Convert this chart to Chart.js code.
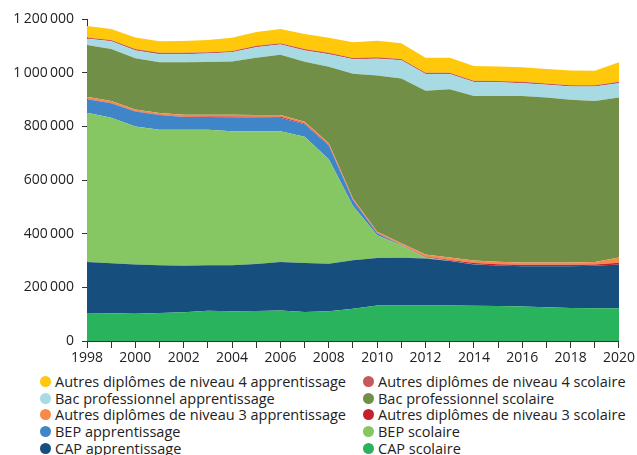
<!DOCTYPE html>
<html lang="fr">
<head>
    <meta charset="UTF-8">
    <title>Effectifs par diplôme</title>
    <script src="https://cdn.jsdelivr.net/npm/chart.js"></script>
    <style>
        body { margin: 0; background: #fff; font-family: "Open Sans", Arial, sans-serif; }
        #wrap { position: relative; width: 637px; height: 455px; }
        #chart-box { position: absolute; left: 0; top: 0; width: 637px; height: 370px; }
        #legend { position: absolute; left: 40px; top: 373px; display: grid; grid-template-columns: 323px 270px; row-gap: 0; }
        .item { display: flex; align-items: center; height: 16.7px; font-size: 14.5px; color: #222; white-space: nowrap; }
        .dot { width: 11px; height: 11px; border-radius: 50%; margin-right: 4px; flex: none; }
    </style>
</head>
<body>
<div id="wrap">
    <div id="chart-box"><canvas id="chart"></canvas></div>
    <div id="legend"></div>
</div>
<script>
const years = ['1998','1999','2000','2001','2002','2003','2004','2005','2006','2007','2008','2009','2010','2011','2012','2013','2014','2015','2016','2017','2018','2019','2020'];

const capScolaire = [104000,103000,102000,104000,107000,113000,111000,112000,114000,108000,111000,120000,132000,132000,132000,132000,131000,130000,129000,126000,123000,122000,122000];
const capApprentissage = [190000,187000,183000,178000,173000,169000,171000,175000,180000,183000,177000,181000,177000,178000,175000,166000,154000,151000,150000,153000,156000,158000,163000];
const bepScolaire = [557000,542000,514000,505000,507000,505000,500000,495000,488000,470000,389000,202000,85000,46000,3000,0,0,0,0,0,0,0,0];
const bepApprentissage = [50000,54000,56000,55000,48000,48000,52000,51000,50000,47000,52000,22000,8000,2000,2000,1000,1000,0,0,0,0,0,0];
const n3Scolaire = [1000,1000,1000,1000,1000,2000,3000,3000,4000,3000,2000,1000,1000,1000,2000,3000,5000,5000,5000,5000,5000,5000,7000];
const n3Apprentissage = [8000,7000,7000,7000,7000,6000,6000,6000,6000,6000,6000,5000,4000,5000,8000,9000,9000,9000,9000,9000,9000,9000,19000];
const bacProScolaire = [193000,194000,191000,189000,196000,197000,199000,214000,225000,224000,285000,465000,582000,614000,611000,627000,613000,618000,620000,614000,606000,600000,596000];
const bacProApprentissage = [23000,29000,29000,30000,30000,31000,34000,39000,38000,42000,47000,54000,63000,68000,62000,57000,52000,51000,48000,48000,49000,54000,54000];
const n4Scolaire = [5000,5000,5000,5000,5000,5000,5000,5000,5000,5000,5000,5000,5000,5000,5000,5000,5000,5000,5000,5000,5000,5000,5000];
const n4Apprentissage = [43000,41000,43000,43000,44000,46000,49000,52000,53000,56000,56000,58000,62000,59000,56000,56000,55000,54000,54000,54000,55000,54000,73000];

const yTicks = [0, 200000, 400000, 600000, 800000, 1000000, 1200000];

// ordre d'empilement, du bas vers le haut
const series = [
    { label: 'CAP scolaire', data: capScolaire, color: '#29b35c' },
    { label: 'CAP apprentissage', data: capApprentissage, color: '#164e7e' },
    { label: 'BEP scolaire', data: bepScolaire, color: '#86c663' },
    { label: 'BEP apprentissage', data: bepApprentissage, color: '#3f86c8' },
    { label: 'Autres diplômes de niveau 3 scolaire', data: n3Scolaire, color: '#c8202b' },
    { label: 'Autres diplômes de niveau 3 apprentissage', data: n3Apprentissage, color: '#f58a4c' },
    { label: 'Bac professionnel scolaire', data: bacProScolaire, color: '#718f47' },
    { label: 'Bac professionnel apprentissage', data: bacProApprentissage, color: '#a8dae3' },
    { label: 'Autres diplômes de niveau 4 scolaire', data: n4Scolaire, color: '#c65a5a' },
    { label: 'Autres diplômes de niveau 4 apprentissage', data: n4Apprentissage, color: '#ffc80b' }
];

// légende en deux colonnes : apprentissage à gauche, scolaire à droite
const legendOrder = [9, 8, 7, 6, 5, 4, 3, 2, 1, 0];
let legend = document.getElementById('legend');
legendOrder.forEach(i => {
    let s = series[i];
    let div = document.createElement('div');
    div.className = 'item';
    div.innerHTML = `<span class="dot" style="background:${s.color}"></span><span>${s.label}</span>`;
    legend.appendChild(div);
});

function fmt(v) {
    return String(v).replace(/\B(?=(\d{3})+(?!\d))/g, '\u2009');
}

new Chart(document.getElementById('chart'), {
    type: 'line',
    data: {
        labels: years,
        datasets: series.map((s, i) => ({
            label: s.label,
            data: s.data,
            backgroundColor: s.color,
            borderColor: s.color,
            borderWidth: 0,
            pointRadius: 0,
            tension: 0,
            fill: i === 0 ? 'origin' : '-1'
        }))
    },
    options: {
        responsive: true,
        maintainAspectRatio: false,
        animation: false,
        layout: { padding: { top: 19, right: 16, left: 0, bottom: 0 } },
        plugins: { legend: { display: false }, tooltip: { enabled: false } },
        scales: {
            x: {
                offset: false,
                grid: { display: true, drawOnChartArea: false, drawTicks: true, tickLength: 7, color: '#333' },
                border: { display: true, color: '#333', width: 1 },
                ticks: {
                    autoSkip: false, maxRotation: 0, padding: 2,
                    color: '#222', font: { family: 'Open Sans', size: 14 },
                    callback: function(v, i) { return i % 2 === 0 ? years[i] : ''; }
                },
                afterFit: function(scale) { scale.height = 29; }
            },
            y: {
                stacked: true,
                min: 0,
                max: 1200000,
                grid: { display: true, drawOnChartArea: false, drawTicks: true, tickLength: 5, color: '#333' },
                border: { display: true, color: '#333', width: 1 },
                afterBuildTicks: function(scale) { scale.ticks = yTicks.map(v => ({ value: v })); },
                ticks: {
                    padding: 8,
                    color: '#222', font: { family: 'Open Sans', size: 14 },
                    callback: function(v) { return fmt(v); }
                },
                afterFit: function(scale) { scale.width = 87; }
            }
        }
    }
});
</script>
</body>
</html>
